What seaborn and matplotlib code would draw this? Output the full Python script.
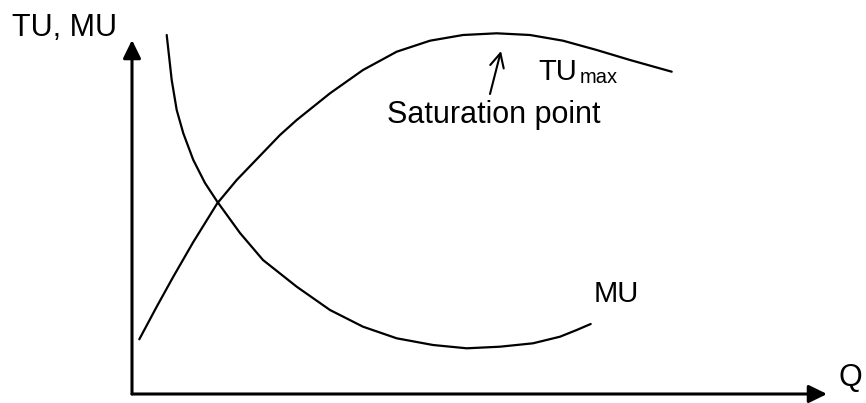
import pandas as pd
import seaborn as sns
import matplotlib.pyplot as plt

# Total utility curve (quantity, utility)
tu_q = [0.73, 2.47, 4.13, 6.13, 8.53, 10.47, 14.8, 16.47, 19.8, 23.1, 26.47, 29.8,
        33.1, 36.47, 39.8, 43.1, 46.47, 49.8, 53.97]
tu_u = [5.47, 8.73, 11.73, 15.2, 19.07, 21.4, 25.9, 27.4, 30.07, 32.4, 34.23, 35.33,
        35.9, 36.07, 35.9, 35.33, 34.4, 33.4, 32.23]

# Marginal utility curve
mu_q = [3.47, 3.97, 4.47, 5.13, 6.13, 7.3, 8.53, 10.8, 13.1, 16.47, 19.8, 23.1,
        26.47, 30.1, 33.47, 36.8, 40.1, 42.8, 44.47, 45.87]
mu_u = [35.9, 31.4, 28.4, 26.07, 23.4, 21.1, 19.23, 16.1, 13.4, 10.73, 8.4, 6.73,
        5.57, 4.9, 4.57, 4.73, 5.07, 5.73, 6.4, 7.0]

tu = pd.DataFrame({"Q": tu_q, "U": tu_u})
mu = pd.DataFrame({"Q": mu_q, "U": mu_u})

sns.set_theme(style="white")
plt.rcParams["font.family"] = ["Liberation Sans", "DejaVu Sans"]
plt.rcParams["text.color"] = "black"

fig = plt.figure(figsize=(8.66, 4.03), dpi=100)
ax = fig.add_axes([0, 0, 1, 1])

sns.lineplot(data=tu, x="Q", y="U", sort=False, estimator=None, color="black", lw=1.6, ax=ax)
sns.lineplot(data=mu, x="Q", y="U", sort=False, estimator=None, color="black", lw=1.6, ax=ax)

ax.set_xlim(-13.2, 73.4)
ax.set_ylim(-0.9, 39.4)
ax.axis("off")

# axes with arrow heads
head = "-|>,head_length=0.55,head_width=0.27"
ax.annotate("", xy=(69.5, 0), xytext=(0, 0),
            arrowprops=dict(arrowstyle=head, color="black", lw=2.2, mutation_scale=20, shrinkA=0, shrinkB=0))
ax.annotate("", xy=(0, 35.4), xytext=(0, 0),
            arrowprops=dict(arrowstyle=head, color="black", lw=2.2, mutation_scale=20, shrinkA=0, shrinkB=0))

# saturation point arrow
ax.annotate("", xy=(36.9, 34.3), xytext=(35.8, 30.0),
            arrowprops=dict(arrowstyle="->,head_length=0.5,head_width=0.25", color="black", lw=1.5,
                            mutation_scale=20, shrinkA=0, shrinkB=0))

ax.text(-12.0, 35.8, "TU, MU", fontsize=22, ha="left", va="baseline")
ax.text(70.7, 0.8, "Q", fontsize=22, ha="left", va="baseline")
ax.text(46.2, 9.2, "MU", fontsize=21, ha="left", va="baseline")
ax.text(40.6, 31.4, "TU", fontsize=21, ha="left", va="baseline")
ax.text(44.8, 31.1, "max", fontsize=14.5, ha="left", va="baseline")
ax.text(25.5, 27.1, "Saturation point", fontsize=22, ha="left", va="baseline")

plt.savefig("out.png", dpi=100)
